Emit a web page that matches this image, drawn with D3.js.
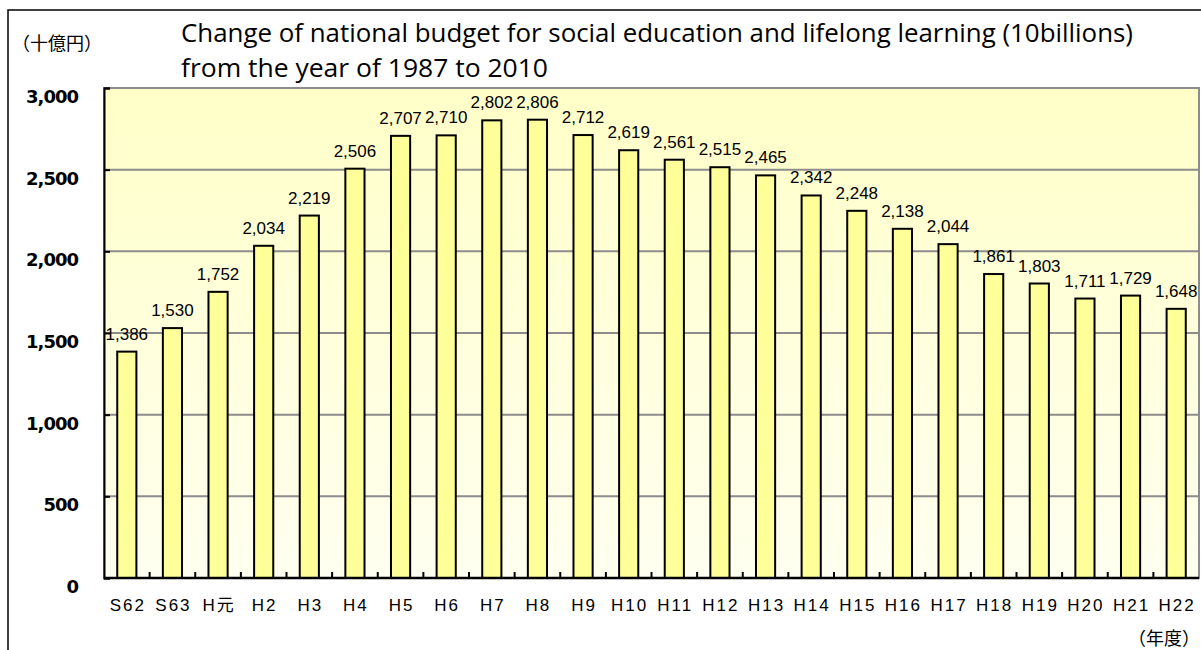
<!DOCTYPE html>
<html>
<head>
<meta charset="utf-8">
<script src="https://cdn.jsdelivr.net/npm/d3@7"></script>
<style>
  html, body { margin: 0; padding: 0; background: #fff; }
  svg { display: block; }
</style>
</head>
<body>
<svg id="chart" width="1201" height="650"></svg>
<script>
// Fiscal years (Showa 62 – Heisei 22)
const years = ["S62", "S63", "H元", "H2", "H3", "H4", "H5", "H6", "H7", "H8", "H9", "H10",
               "H11", "H12", "H13", "H14", "H15", "H16", "H17", "H18", "H19", "H20", "H21", "H22"];
// Budget, in billions of yen
const budget = [1386, 1530, 1752, 2034, 2219, 2506, 2707, 2710, 2802, 2806, 2712, 2619,
                2561, 2515, 2465, 2342, 2248, 2138, 2044, 1861, 1803, 1711, 1729, 1648];
const yTicks = [0, 500, 1000, 1500, 2000, 2500, 3000];
const titleLines = [
  "Change of national budget for social education and lifelong learning (10billions)",
  "from the year of 1987 to 2010"
];

const svg = d3.select("#chart");
const plot = { left: 104, right: 1199, top: 88, bottom: 578 };

const x = d3.scaleBand()
  .domain(years)
  .range([plot.left, plot.right])
  .paddingInner(0.58)
  .paddingOuter(0.29);

const y = d3.scaleLinear()
  .domain([0, 3000])
  .range([plot.bottom, plot.top]);

// outer frame
svg.append("rect")
  .attr("x", 8).attr("y", 10)
  .attr("width", 1220).attr("height", 700)
  .attr("fill", "none").attr("stroke", "#000").attr("stroke-width", 1.5);

// plot background gradient
const defs = svg.append("defs");
const grad = defs.append("linearGradient")
  .attr("id", "bg").attr("x1", 0).attr("y1", 0).attr("x2", 0).attr("y2", 1);
grad.append("stop").attr("offset", "0%").attr("stop-color", "#ffffc8");
grad.append("stop").attr("offset", "100%").attr("stop-color", "#fffff0");

svg.append("rect")
  .attr("x", plot.left).attr("y", plot.top)
  .attr("width", plot.right - plot.left).attr("height", plot.bottom - plot.top)
  .attr("fill", "url(#bg)")
  .attr("stroke", "#8c8c8c").attr("stroke-width", 2);

// gridlines
svg.append("g")
  .selectAll("line")
  .data(yTicks.filter(d => d > 0 && d < 3000))
  .join("line")
  .attr("x1", plot.left).attr("x2", plot.right)
  .attr("y1", d => y(d)).attr("y2", d => y(d))
  .attr("stroke", "#8c8c8c").attr("stroke-width", 2);

// bars
svg.append("g")
  .selectAll("rect")
  .data(budget)
  .join("rect")
  .attr("x", (d, i) => x(years[i]))
  .attr("y", d => y(d))
  .attr("width", x.bandwidth())
  .attr("height", d => y(0) - y(d))
  .attr("fill", "#ffff99")
  .attr("stroke", "#000")
  .attr("stroke-width", 2);

// value labels
svg.append("g")
  .selectAll("text")
  .data(budget)
  .join("text")
  .attr("x", (d, i) => x(years[i]) + x.bandwidth() / 2)
  .attr("y", d => y(d) - 12)
  .attr("text-anchor", "middle")
  .attr("font-family", "Liberation Sans, Arial, sans-serif")
  .attr("font-size", 17)
  .attr("fill", "#000")
  .text(d => d3.format(",")(d));

// y axis (ticks point inward)
const yAxis = svg.append("g")
  .attr("transform", `translate(${plot.left},0)`)
  .call(d3.axisRight(y).tickValues(yTicks).tickSize(6).tickFormat(""));
yAxis.select(".domain").attr("stroke", "#000").attr("stroke-width", 2);
yAxis.selectAll(".tick line").attr("stroke", "#000").attr("stroke-width", 2);

svg.append("g")
  .selectAll("text")
  .data(yTicks)
  .join("text")
  .attr("x", 78)
  .attr("y", d => y(d) + 15)
  .attr("text-anchor", "end")
  .attr("font-family", "DejaVu Sans, Verdana, sans-serif")
  .attr("font-weight", "bold")
  .attr("font-size", 18)
  .attr("letter-spacing", -1)
  .attr("fill", "#000")
  .text(d => d3.format(",")(d));

// x axis (tick marks between categories, pointing up)
const xAxis = svg.append("g")
  .attr("transform", `translate(0,${plot.bottom})`);
xAxis.append("line")
  .attr("x1", plot.left).attr("x2", plot.right)
  .attr("stroke", "#000").attr("stroke-width", 2.5);
xAxis.selectAll("line.tk")
  .data(years.slice(1))
  .join("line")
  .attr("class", "tk")
  .attr("x1", d => x(d) - x.step() * x.paddingInner() / 2)
  .attr("x2", d => x(d) - x.step() * x.paddingInner() / 2)
  .attr("y1", 0).attr("y2", -6)
  .attr("stroke", "#000").attr("stroke-width", 2);

svg.append("g")
  .selectAll("text")
  .data(years)
  .join("text")
  .attr("x", d => x(d) + x.bandwidth() / 2 + 1)
  .attr("y", 611)
  .attr("text-anchor", "middle")
  .attr("font-family", "Liberation Sans, Arial, 'Noto Sans CJK JP', sans-serif")
  .attr("font-size", 17)
  .attr("letter-spacing", 2)
  .attr("fill", "#000")
  .text(d => d);

// unit labels
svg.append("text")
  .attr("x", 12).attr("y", 50)
  .attr("font-family", "'Noto Sans CJK JP', sans-serif")
  .attr("font-size", 18)
  .text("（十億円）");

svg.append("text")
  .attr("x", 1200).attr("y", 645)
  .attr("text-anchor", "end")
  .attr("font-family", "'Noto Sans CJK JP', sans-serif")
  .attr("font-size", 18)
  .text("（年度）");

// title
const titleWidths = [952, 367];
svg.append("g")
  .selectAll("text")
  .data(titleLines)
  .join("text")
  .attr("x", 181)
  .attr("y", (d, i) => 42 + i * 35)
  .attr("font-family", "'Open Sans', sans-serif")
  .attr("font-size", 25)
  .attr("textLength", (d, i) => titleWidths[i])
  .attr("lengthAdjust", "spacingAndGlyphs")
  .attr("fill", "#000")
  .text(d => d);
</script>
</body>
</html>
